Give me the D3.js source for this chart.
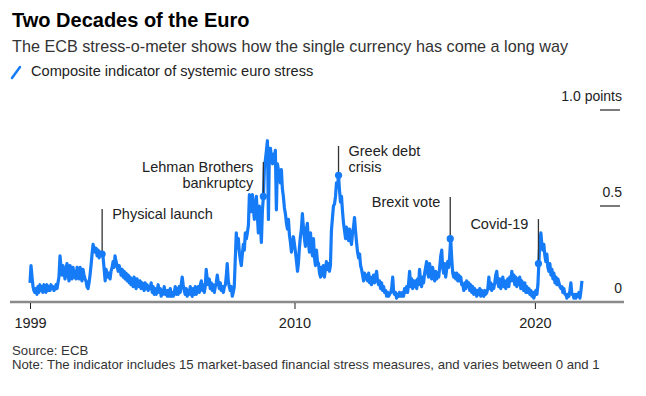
<!DOCTYPE html>
<html>
<head>
<meta charset="utf-8">
<script src="https://cdn.jsdelivr.net/npm/d3@7"></script>
<style>
  body { margin: 0; background: #fff; }
  svg { display: block; font-family: "Liberation Sans", Arial, sans-serif; }
</style>
</head>
<body>
<div id="chart"></div>
<script>
// ECB composite indicator of systemic stress, twice a month (1st and 16th)
const stressStartYear = 1999;
const stress = [
  // 1999
  0.10, 0.19, 0.13, 0.08, 0.06, 0.05, 0.07, 0.04, 0.08, 0.05, 0.09, 0.06, 0.08, 0.05, 0.09, 0.07, 0.05, 0.09, 0.06, 0.08, 0.06, 0.09, 0.07, 0.08,
  // 2000
  0.06, 0.07, 0.09, 0.07, 0.10, 0.13, 0.24, 0.18, 0.14, 0.19, 0.15, 0.12, 0.17, 0.20, 0.14, 0.11, 0.19, 0.15, 0.12, 0.18, 0.13, 0.16, 0.12, 0.18,
  // 2001
  0.16, 0.12, 0.18, 0.13, 0.11, 0.17, 0.14, 0.12, 0.11, 0.08, 0.07, 0.10, 0.14, 0.19, 0.25, 0.30, 0.28, 0.26, 0.28, 0.24, 0.27, 0.23, 0.26, 0.25,
  // 2002
  0.25, 0.23, 0.17, 0.11, 0.17, 0.15, 0.13, 0.15, 0.12, 0.16, 0.18, 0.21, 0.18, 0.24, 0.21, 0.19, 0.16, 0.19, 0.17, 0.14, 0.17, 0.13, 0.16, 0.12,
  // 2003
  0.15, 0.11, 0.14, 0.10, 0.13, 0.09, 0.12, 0.08, 0.13, 0.10, 0.07, 0.12, 0.09, 0.08, 0.11, 0.07, 0.10, 0.08, 0.06, 0.10, 0.07, 0.09, 0.06, 0.08,
  // 2004
  0.07, 0.10, 0.05, 0.08, 0.04, 0.07, 0.04, 0.06, 0.09, 0.05, 0.07, 0.03, 0.06, 0.04, 0.08, 0.04, 0.06, 0.03, 0.06, 0.03, 0.07, 0.03, 0.05, 0.03,
  // 2005
  0.05, 0.08, 0.04, 0.07, 0.04, 0.08, 0.05, 0.09, 0.13, 0.09, 0.06, 0.04, 0.07, 0.03, 0.06, 0.04, 0.08, 0.04, 0.03, 0.07, 0.04, 0.08, 0.04, 0.06,
  // 2006
  0.08, 0.05, 0.09, 0.11, 0.06, 0.09, 0.05, 0.08, 0.17, 0.12, 0.09, 0.12, 0.07, 0.10, 0.06, 0.09, 0.05, 0.08, 0.10, 0.14, 0.10, 0.07, 0.10, 0.06,
  // 2007
  0.08, 0.05, 0.08, 0.09, 0.13, 0.20, 0.11, 0.08, 0.06, 0.08, 0.03, 0.05, 0.08, 0.22, 0.36, 0.28, 0.33, 0.26, 0.22, 0.19, 0.25, 0.30, 0.27, 0.36,
  // 2008
  0.33, 0.36, 0.40, 0.56, 0.51, 0.47, 0.56, 0.49, 0.43, 0.50, 0.55, 0.45, 0.36, 0.50, 0.41, 0.31, 0.48, 0.55, 0.70, 0.74, 0.79, 0.84, 0.43, 0.80,
  // 2009
  0.80, 0.75, 0.72, 0.77, 0.74, 0.79, 0.48, 0.72, 0.69, 0.65, 0.62, 0.69, 0.59, 0.55, 0.49, 0.46, 0.41, 0.38, 0.43, 0.35, 0.31, 0.26, 0.30, 0.34,
  // 2010
  0.30, 0.26, 0.21, 0.16, 0.20, 0.28, 0.34, 0.38, 0.46, 0.39, 0.33, 0.29, 0.38, 0.41, 0.31, 0.26, 0.36, 0.29, 0.24, 0.33, 0.23, 0.19, 0.27, 0.21,
  // 2011
  0.20, 0.15, 0.13, 0.18, 0.14, 0.19, 0.13, 0.17, 0.21, 0.17, 0.20, 0.16, 0.19, 0.37, 0.44, 0.50, 0.51, 0.55, 0.62, 0.60, 0.66, 0.58, 0.52, 0.55,
  // 2012
  0.47, 0.41, 0.37, 0.33, 0.39, 0.35, 0.32, 0.38, 0.33, 0.30, 0.36, 0.39, 0.44, 0.37, 0.31, 0.26, 0.23, 0.25, 0.19, 0.17, 0.14, 0.11, 0.15, 0.12,
  // 2013
  0.14, 0.11, 0.15, 0.10, 0.13, 0.09, 0.12, 0.14, 0.10, 0.13, 0.16, 0.11, 0.09, 0.11, 0.07, 0.10, 0.06, 0.08, 0.05, 0.06, 0.03, 0.05, 0.03, 0.04,
  // 2014
  0.05, 0.07, 0.13, 0.05, 0.04, 0.05, 0.02, 0.04, 0.03, 0.05, 0.03, 0.03, 0.05, 0.03, 0.07, 0.05, 0.08, 0.05, 0.10, 0.16, 0.08, 0.12, 0.07, 0.11,
  // 2015
  0.08, 0.11, 0.07, 0.12, 0.09, 0.17, 0.11, 0.08, 0.13, 0.10, 0.15, 0.18, 0.21, 0.15, 0.13, 0.20, 0.15, 0.12, 0.18, 0.14, 0.11, 0.16, 0.12, 0.15,
  // 2016
  0.13, 0.18, 0.24, 0.27, 0.18, 0.15, 0.20, 0.13, 0.17, 0.21, 0.18, 0.24, 0.33, 0.23, 0.15, 0.13, 0.15, 0.12, 0.15, 0.11, 0.14, 0.11, 0.13, 0.09,
  // 2017
  0.09, 0.06, 0.10, 0.07, 0.11, 0.08, 0.10, 0.06, 0.09, 0.05, 0.08, 0.04, 0.07, 0.05, 0.03, 0.06, 0.04, 0.07, 0.03, 0.06, 0.04, 0.03, 0.06, 0.04,
  // 2018
  0.05, 0.07, 0.13, 0.07, 0.10, 0.06, 0.09, 0.07, 0.10, 0.14, 0.16, 0.10, 0.08, 0.12, 0.07, 0.10, 0.13, 0.08, 0.11, 0.07, 0.10, 0.12, 0.08, 0.13,
  // 2019
  0.11, 0.16, 0.11, 0.14, 0.09, 0.13, 0.08, 0.12, 0.09, 0.13, 0.07, 0.11, 0.08, 0.06, 0.10, 0.05, 0.08, 0.05, 0.07, 0.04, 0.06, 0.03, 0.05, 0.02,
  // 2020
  0.04, 0.06, 0.04, 0.09, 0.20, 0.31, 0.36, 0.30, 0.27, 0.30, 0.24, 0.21, 0.25, 0.18, 0.16, 0.20, 0.14, 0.17, 0.12, 0.15, 0.10, 0.13, 0.09, 0.12,
  // 2021
  0.10, 0.08, 0.07, 0.08, 0.05, 0.07, 0.04, 0.04, 0.02, 0.04, 0.03, 0.06, 0.10, 0.04, 0.04, 0.02, 0.04, 0.02, 0.04, 0.03, 0.05, 0.02, 0.06, 0.11
];

const tickYears = [1999, 2010, 2020];
const yTicks = [0, 0.5, 1.0];
const yTickLabels = ["0", "0.5", "1.0 points"];

const eventNames = [["Physical launch"], ["Lehman Brothers", "bankruptcy"], ["Greek debt", "crisis"], ["Brexit vote"], ["Covid-19"]];
const eventDates = ["2002-01-01", "2008-09-15", "2011-11-01", "2016-06-24", "2020-02-24"];

// layout for the callouts: top of the leader (in index points) and which side the text sits
const eventTops = [0.484, 0.729, 0.8125, 0.547, 0.432];
const eventSides = ["right", "left", "right", "left", "left"];

const width = 646,
  height = 396;
const blue = "#157bf6";

const data = stress.map((v, k) => {
  const year = stressStartYear + Math.floor(k / 24);
  const month = Math.floor((k % 24) / 2);
  return { date: new Date(year, month, k % 2 ? 16 : 1), value: v };
});

const svg = d3.select("#chart").append("svg").attr("width", width).attr("height", height);

const x = d3.scaleTime().domain([new Date(1999, 0, 1), new Date(2022, 0, 1)]).range([30, 583]);
const y = d3.scaleLinear().domain([0, 1]).range([302, 110]);

// header
svg.append("text").attr("x", 12).attr("y", 27)
  .attr("font-size", 20).attr("font-weight", "bold").attr("fill", "#000")
  .text("Two Decades of the Euro");
svg.append("text").attr("x", 12).attr("y", 52)
  .attr("font-size", 16.2).attr("fill", "#333")
  .text("The ECB stress-o-meter shows how the single currency has come a long way");

svg.append("line").attr("x1", 12).attr("y1", 78).attr("x2", 20).attr("y2", 67)
  .attr("stroke", blue).attr("stroke-width", 2.5).attr("stroke-linecap", "round");
svg.append("text").attr("x", 31).attr("y", 76)
  .attr("font-size", 14.6).attr("fill", "#222")
  .text("Composite indicator of systemic euro stress");

// y labels on the right with short rules
const yg = svg.append("g");
yg.selectAll("line")
  .data(yTicks.filter(d => d > 0))
  .join("line")
  .attr("x1", 600).attr("x2", 620)
  .attr("y1", d => y(d)).attr("y2", d => y(d))
  .attr("stroke", "#222").attr("stroke-width", 1.2);
yg.selectAll("text")
  .data(yTicks)
  .join("text")
  .attr("x", 622).attr("y", d => y(d) - 9)
  .attr("text-anchor", "end").attr("font-size", 14).attr("fill", "#222")
  .text((d, i) => yTickLabels[i]);

// x axis
svg.append("line").attr("x1", 10).attr("x2", 624).attr("y1", y(0)).attr("y2", y(0))
  .attr("stroke", "#8a8a8a").attr("stroke-width", 2.5);

const xAxis = d3.axisBottom(x)
  .tickValues(tickYears.map(d => new Date(d, 0, 1)))
  .tickFormat(d3.timeFormat("%Y"))
  .tickSize(6)
  .tickPadding(9);

svg.append("g")
  .attr("transform", `translate(0,${y(0) + 1})`)
  .call(xAxis)
  .call(g => g.select(".domain").remove())
  .call(g => g.selectAll(".tick line").attr("stroke", "#222"))
  .call(g => g.selectAll(".tick text")
    .attr("font-family", "Liberation Sans, Arial, sans-serif")
    .attr("font-size", 14.5).attr("fill", "#222"));

// the series
const line = d3.line().x(d => x(d.date)).y(d => y(d.value));

svg.append("path")
  .datum(data)
  .attr("d", line)
  .attr("fill", "none")
  .attr("stroke", blue)
  .attr("stroke-width", 3.2)
  .attr("stroke-linejoin", "round");

// callouts
const bisect = d3.bisector(d => d.date).center;
const parse = d3.timeParse("%Y-%m-%d");

const events = eventNames.map((name, i) => {
  const date = parse(eventDates[i]);
  const hit = data[bisect(data, date)];
  return { name, date, value: hit.value, top: eventTops[i], side: eventSides[i] };
});

const ev = svg.append("g").selectAll("g").data(events).join("g");

ev.append("line")
  .attr("x1", d => x(d.date)).attr("x2", d => x(d.date))
  .attr("y1", d => y(d.top)).attr("y2", d => y(d.value))
  .attr("stroke", "#333").attr("stroke-width", 1.3);

ev.append("circle")
  .attr("cx", d => x(d.date)).attr("cy", d => y(d.value))
  .attr("r", 3.6).attr("fill", blue);

ev.append("text")
  .attr("x", d => x(d.date) + (d.side === "right" ? 10 : -10))
  .attr("y", d => y(d.top) + 10)
  .attr("text-anchor", d => d.side === "right" ? "start" : "end")
  .attr("font-size", 14.5).attr("fill", "#222")
  .selectAll("tspan")
  .data(d => d.name.map(t => ({ t, d })))
  .join("tspan")
  .attr("x", o => x(o.d.date) + (o.d.side === "right" ? 10 : -10))
  .attr("dy", (o, i) => i ? 16 : 0)
  .text(o => o.t);

// footer
svg.append("text").attr("x", 12).attr("y", 355)
  .attr("font-size", 13.2).attr("fill", "#333").text("Source: ECB");
svg.append("text").attr("x", 12).attr("y", 369)
  .attr("font-size", 13.2).attr("fill", "#333")
  .text("Note: The indicator includes 15 market-based financial stress measures, and varies between 0 and 1");
</script>
</body>
</html>
